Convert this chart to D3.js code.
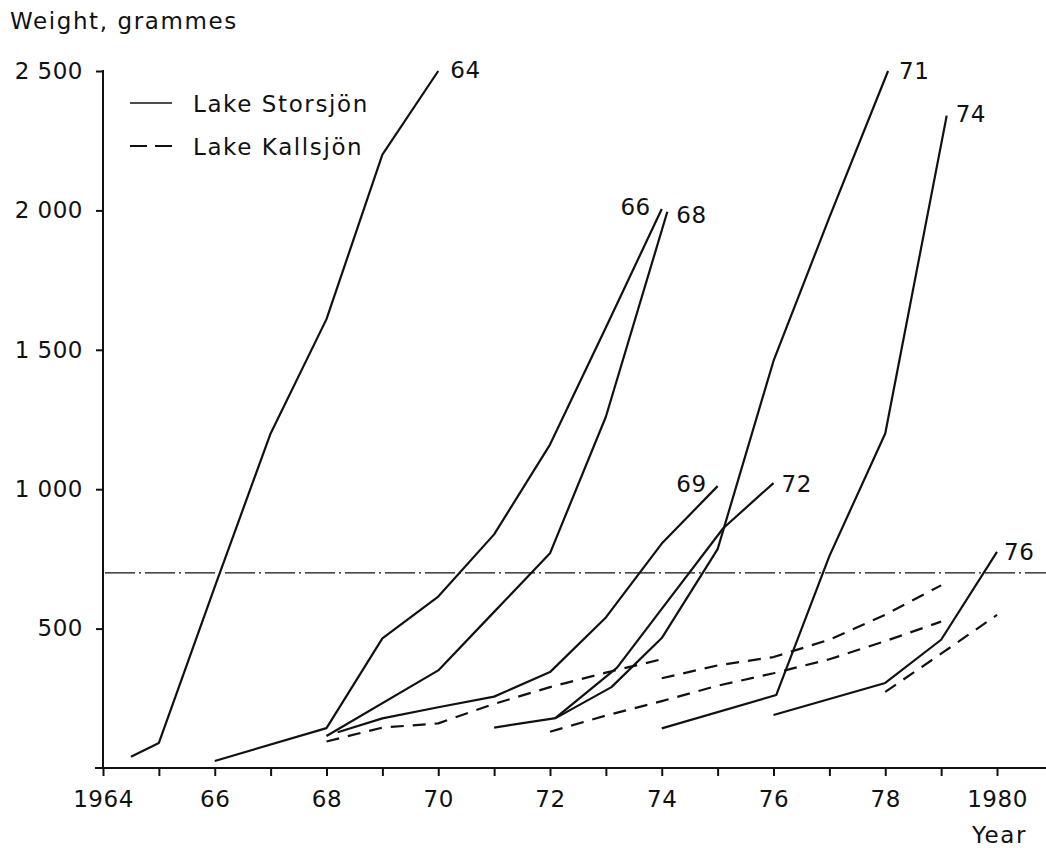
<!DOCTYPE html>
<meta charset="utf-8">
<title>Weight by year class</title>
<style>

body {
  margin: 0;
  background: #fff;
}

svg {
  display: block;
  font-family: "DejaVu Sans", sans-serif;
}

text {
  fill: #111;
  font-size: 23px;
  letter-spacing: 0.5px;
}

text.word {
  letter-spacing: 1.6px;
}

.axis line,
.axis-line {
  stroke: #111;
  stroke-width: 2;
}

.series {
  fill: none;
  stroke: #111;
  stroke-width: 2.2;
  stroke-linejoin: round;
}

.series.kallsjon {
  stroke-dasharray: 13, 9;
}

.ref-line {
  stroke: #111;
  stroke-width: 1.3;
  stroke-dasharray: 30, 4, 2, 4;
}

</style>
<svg width="1046" height="848"></svg>
<script src="https://cdn.jsdelivr.net/npm/d3@7"></script>
<script>

// year classes, Lake Storsjön (solid)
var storsjonNames = ["64", "66", "68", "69", "71", "72", "74", "76"];

var s64Years   = [1964.5, 1965, 1966, 1967, 1968, 1969, 1970];
var s64Weights = [40, 90, 650, 1200, 1610, 2200, 2500];

var s66Years   = [1966, 1968, 1969, 1970, 1971, 1972, 1973, 1974];
var s66Weights = [25, 143, 465, 615, 838, 1160, 1580, 2005];

var s68Years   = [1968, 1970, 1971, 1972, 1973, 1974.1];
var s68Weights = [115, 350, 560, 770, 1260, 1995];

var s69Years   = [1968.2, 1969, 1970, 1971, 1972, 1973, 1974, 1975];
var s69Weights = [128, 178, 218, 256, 344, 540, 805, 1011];

var s71Years   = [1971, 1972.1, 1973.1, 1974, 1975, 1976, 1977, 1978.05];
var s71Weights = [145, 179, 290, 466, 785, 1460, 1975, 2500];

var s72Years   = [1972.1, 1973.2, 1974, 1975.1, 1976];
var s72Weights = [180, 360, 571, 860, 1022];

var s74Years   = [1974, 1976.05, 1977, 1978, 1979.1];
var s74Weights = [142, 262, 760, 1200, 2340];

var s76Years   = [1976, 1978, 1979, 1980];
var s76Weights = [190, 305, 460, 775];

// Lake Kallsjön (dashed), not labelled
var k68Years   = [1968, 1969, 1970, 1971, 1972, 1973, 1974];
var k68Weights = [95, 145, 160, 230, 290, 342, 390];

var k72Years   = [1972, 1973, 1974, 1975, 1976, 1977, 1978, 1979];
var k72Weights = [130, 188, 240, 295, 340, 390, 455, 525];

var k74Years   = [1974, 1975, 1976, 1977, 1978, 1979];
var k74Weights = [322, 368, 398, 460, 550, 655];

var k78Years   = [1978, 1979, 1980];
var k78Weights = [273, 410, 549];

var yTicks = [500, 1000, 1500, 2000, 2500];
var xTicks = d3.range(1964, 1981);
var refWeight = 700;

function zip(xs, ys) {
  return xs.map(function (v, i) { return [v, ys[i]]; });
}

var storsjon = [
  zip(s64Years, s64Weights),
  zip(s66Years, s66Weights),
  zip(s68Years, s68Weights),
  zip(s69Years, s69Weights),
  zip(s71Years, s71Weights),
  zip(s72Years, s72Weights),
  zip(s74Years, s74Weights),
  zip(s76Years, s76Weights)
];

var kallsjon = [
  zip(k68Years, k68Weights),
  zip(k72Years, k72Weights),
  zip(k74Years, k74Weights),
  zip(k78Years, k78Weights)
];

// where each year-class label sits relative to the last point
var labelPlace = {
  "64": [12, 7, "start"],
  "66": [-11, 6, "end"],
  "68": [9, 11, "start"],
  "69": [-11, 6, "end"],
  "71": [11, 8, "start"],
  "72": [8, 9, "start"],
  "74": [9, 6, "start"],
  "76": [7, 8, "start"]
};

var svg = d3.select("svg");

var x = d3.scaleLinear().domain([1964, 1980]).range([103, 997]);
var y = d3.scaleLinear().domain([0, 2500]).range([768, 71]);

var spaceFormat = d3.formatLocale({decimal: ".", thousands: " ", grouping: [3], currency: ["", ""]}).format(",");

// y axis
var yAxis = svg.append("g")
    .attr("class", "axis")
    .attr("transform", "translate(" + x(1964) + ",0)")
    .call(d3.axisLeft(y).tickValues(yTicks).tickSize(7).tickPadding(13).tickFormat(spaceFormat));
yAxis.select(".domain").remove();
yAxis.attr("font-family", null).attr("font-size", null);

svg.append("line")
    .attr("class", "axis-line")
    .attr("x1", x(1964)).attr("x2", x(1964))
    .attr("y1", y(2500) - 1).attr("y2", y(0));

// x axis
var xAxis = svg.append("g")
    .attr("class", "axis")
    .attr("transform", "translate(0," + y(0) + ")")
    .call(d3.axisBottom(x).tickValues(xTicks).tickSize(8).tickPadding(15)
      .tickFormat(function (d) {
        if (d % 2) return "";
        return (d === 1964 || d === 1980) ? String(d) : String(d).slice(2);
      }));
xAxis.select(".domain").remove();
xAxis.attr("font-family", null).attr("font-size", null);

svg.append("line")
    .attr("class", "axis-line")
    .attr("x1", x(1964) - 8).attr("x2", 1046)
    .attr("y1", y(0)).attr("y2", y(0));

// reference level
svg.append("line")
    .attr("class", "ref-line")
    .attr("x1", x(1964) + 2).attr("x2", 1046)
    .attr("y1", y(refWeight)).attr("y2", y(refWeight));

var line = d3.line()
    .x(function (d) { return x(d[0]); })
    .y(function (d) { return y(d[1]); });

svg.append("g")
  .selectAll("path")
    .data(kallsjon)
  .enter().append("path")
    .attr("class", "series kallsjon")
    .attr("d", line);

svg.append("g")
  .selectAll("path")
    .data(storsjon)
  .enter().append("path")
    .attr("class", "series storsjon")
    .attr("d", line);

svg.append("g")
  .selectAll("text")
    .data(storsjon)
  .enter().append("text")
    .attr("x", function (d, i) { return x(d[d.length - 1][0]) + labelPlace[storsjonNames[i]][0]; })
    .attr("y", function (d, i) { return y(d[d.length - 1][1]) + labelPlace[storsjonNames[i]][1]; })
    .attr("text-anchor", function (d, i) { return labelPlace[storsjonNames[i]][2]; })
    .text(function (d, i) { return storsjonNames[i]; });

// legend
var legend = svg.append("g");
legend.append("line")
    .attr("class", "series")
    .style("stroke-width", 1.6)
    .attr("x1", 130).attr("x2", 172).attr("y1", 103).attr("y2", 103);
legend.append("text").attr("class", "word").attr("x", 193).attr("y", 112).text("Lake Storsjön");
legend.append("line")
    .attr("class", "series")
    .style("stroke-dasharray", "17,8")
    .attr("x1", 130).attr("x2", 172).attr("y1", 146).attr("y2", 146);
legend.append("text").attr("class", "word").attr("x", 193).attr("y", 155).text("Lake Kallsjön");

// titles
svg.append("text").attr("class", "word").attr("x", 10).attr("y", 29).text("Weight, grammes");
svg.append("text").attr("class", "word").attr("x", 972).attr("y", 843).text("Year");

</script>
